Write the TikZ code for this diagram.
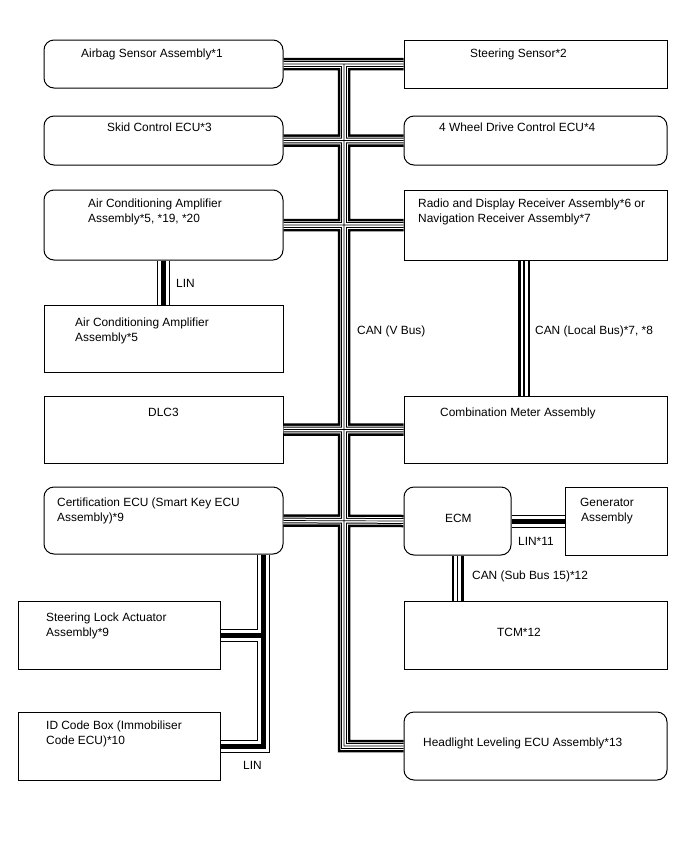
\documentclass[tikz,border=0pt]{standalone}
\usepackage{fontspec}
\setmainfont{Liberation Sans}
\begin{document}
\begin{tikzpicture}[x=1pt,y=-1pt,line join=miter,
  box/.style={draw,line width=1pt,inner sep=0pt},
  rbox/.style={box,rounded corners=10pt},
  txt/.style={anchor=base west,inner sep=0pt,font=\fontsize{11.9}{15}\selectfont},
  ctxt/.style={txt,anchor=base},
  canv/.style={draw,black,line width=12.5pt,
    postaction={draw,white,line width=7.5pt},
    postaction={draw,black,line width=5.7pt},
    postaction={draw,white,line width=3.7pt},
    postaction={draw,black,line width=0.7pt}},
  canl/.style={draw,black,line width=12pt,
    postaction={draw,white,line width=7pt},
    postaction={draw,black,line width=1.5pt}},
  linb/.style={draw,black,line width=13pt,
    postaction={draw,white,line width=11pt},
    postaction={draw,black,line width=5pt}}]
\useasboundingbox (0,0) rectangle (688,852);

% boxes
\node[rbox,minimum width=239pt,minimum height=48pt] (airbag) at (163.5,64) {};
\node[rbox,minimum width=239pt,minimum height=49pt] (skid) at (163.5,140.5) {};
\node[rbox,minimum width=239pt,minimum height=70pt] (acamp) at (163.5,225) {};
\node[box,minimum width=239pt,minimum height=67pt] (acamptwo) at (163.5,338.5) {};
\node[box,minimum width=239pt,minimum height=67pt] (dlc) at (163.5,429.5) {};
\node[rbox,minimum width=239pt,minimum height=67pt] (cert) at (163.5,520.5) {};
\node[box,minimum width=202pt,minimum height=68pt] (lock) at (119,635) {};
\node[box,minimum width=202pt,minimum height=68pt] (idbox) at (119,746) {};

\node[box,minimum width=263pt,minimum height=48pt] (steer) at (535.5,64) {};
\node[rbox,minimum width=263pt,minimum height=49pt] (fwd) at (535.5,140.5) {};
\node[box,minimum width=263pt,minimum height=70pt] (radio) at (535.5,225) {};
\node[box,minimum width=263pt,minimum height=67pt] (comb) at (535.5,429.5) {};
\node[rbox,minimum width=107pt,minimum height=68pt] (ecm) at (457.5,521) {};
\node[box,minimum width=102pt,minimum height=68pt] (gen) at (616,521) {};
\node[box,minimum width=263pt,minimum height=68pt] (tcm) at (535.5,635) {};
\node[rbox,minimum width=263pt,minimum height=68pt] (head) at (535.5,746) {};

% helper coordinates
\coordinate (trk) at (344,0);
\coordinate (lina) at (163.5,0);
\coordinate (linc) at (263.5,0);
\coordinate (locx) at (524,0);

% CAN (V Bus)
\path[canv] (trk |- airbag.east) -- (trk |- head.west) -- (head.west)
  (airbag.east) -- (steer.west)
  (skid.east) -- (fwd.west)
  (acamp.east) -- (radio.west)
  (dlc.east) -- (comb.west)
  (cert.east) -- (ecm.west);
% CAN local bus
\path[canl] (locx |- radio.south) -- (locx |- comb.north);
% CAN sub bus 15
\path[canl] (ecm.south) -- (ecm.south |- tcm.north);
% LIN lines
\path[linb] (lina |- acamp.south) -- (lina |- acamptwo.north);
\path[linb] (ecm.east) -- (gen.west);
\path[linb] (linc |- cert.south) -- (linc |- idbox.east) -- (idbox.east)
  (lock.east) -- (linc |- lock.east);

% texts
\node[txt] (t1) at (81,57.3) {Airbag Sensor Assembly*1};
\node[txt] (t2) at (107,131.3) {Skid Control ECU*3};
\node[txt] (t3) at (88,207.3) {Air Conditioning Amplifier};
\node[txt] (t4) at (88,222.3) {Assembly*5, *19, *20};
\node[txt] (t5) at (75,326.3) {Air Conditioning Amplifier};
\node[txt] (t6) at (75,341.3) {Assembly*5};
\node[txt] (t7) at (148,416.3) {DLC3};
\node[txt] (t8) at (57,506.3) {Certification ECU (Smart Key ECU};
\node[txt] (t9) at (57,521.3) {Assembly)*9};
\node[txt] (t10) at (46,621.3) {Steering Lock Actuator};
\node[txt] (t11) at (46,636.3) {Assembly*9};
\node[txt] (t12) at (46,729.3) {ID Code Box (Immobiliser};
\node[txt] (t13) at (46,744.3) {Code ECU)*10};
\node[txt] (t14) at (470,57.3) {Steering Sensor*2};
\node[txt] (t15) at (439,131.3) {4 Wheel Drive Control ECU*4};
\node[txt] (t16) at (418,207.3) {Radio and Display Receiver Assembly*6 or};
\node[txt] (t17) at (418,222.3) {Navigation Receiver Assembly*7};
\node[txt] (t18) at (440,416.3) {Combination Meter Assembly};
\node[txt] (t19) at (445,522.3) {ECM};
\node[ctxt] (t20) at (607,506.3) {Generator};
\node[ctxt] (t21) at (607,521.3) {Assembly};
\node[txt] (t22) at (497,636.3) {TCM*12};
\node[txt] (t23) at (423,746.3) {Headlight Leveling ECU Assembly*13};
\node[txt] (t24) at (357,334.3) {CAN (V Bus)};
\node[txt] (t25) at (535,334.3) {CAN (Local Bus)*7, *8};
\node[txt] (t26) at (176,287.3) {LIN};
\node[txt] (t27) at (518,545.3) {LIN*11};
\node[txt] (t28) at (472,579.3) {CAN (Sub Bus 15)*12};
\node[txt] (t29) at (243,769.3) {LIN};
\end{tikzpicture}
\end{document}
